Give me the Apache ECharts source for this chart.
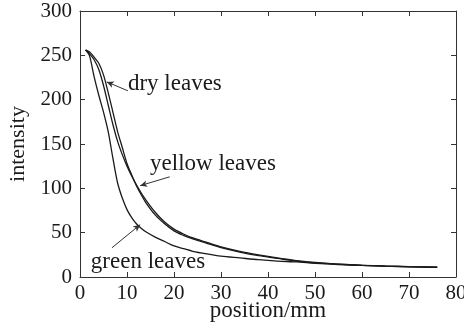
<!DOCTYPE html>
<html>
<head>
<meta charset="utf-8">
<script src="https://cdn.jsdelivr.net/npm/echarts@6/dist/echarts.min.js"></script>
<style>
  html, body { margin: 0; padding: 0; background: #fff; }
  #chart { width: 464px; height: 323px; }
</style>
</head>
<body>
<div id="chart"></div>
<script>
// position (mm) shared by all three curves
const positions = [1.2, 2, 3, 4, 5, 6, 7, 8, 9, 10, 11, 12, 13, 14, 16, 18, 20, 22, 24, 27, 30, 34, 38, 42, 46, 50, 55, 60, 65, 70, 76];
const dryLeaves    = [256, 254, 248, 241, 228, 208, 186, 164, 146, 128, 115, 103, 93, 84, 70, 60, 52, 47, 43, 38, 33, 28, 24, 21, 18, 16, 14.5, 13.2, 12.3, 11.6, 11];
const yellowLeaves = [256, 252, 245, 234, 216, 194, 172, 153, 138, 125, 114, 104, 95, 87, 73, 62, 54, 48.5, 44, 39, 34, 29, 25, 21.5, 18.5, 16.5, 14.5, 13.2, 12.3, 11.6, 11];
const greenLeaves  = [256, 250, 226, 205, 186, 164, 134, 106, 89, 76, 67, 60, 55, 51, 45, 40, 35, 32, 29, 26, 23.5, 21.5, 19.5, 18, 17, 15.5, 14, 13, 12.2, 11.5, 10.8];

const xTicks = [0, 10, 20, 30, 40, 50, 60, 70, 80];
const yTicks = [0, 50, 100, 150, 200, 250, 300];

// annotation text: [label, x, y] and leader line [from, to] in data units
const labels = [
  ['dry leaves', 10.2, 218],
  ['yellow leaves', 14.9, 127],
  ['green leaves', 2.3, 17]
];
const leaders = [
  [[10.2, 210], [5.7, 220]],
  [[19.1, 113], [12.8, 103]],
  [[6.8, 33], [12.8, 59]]
];

const font = 'Liberation Serif';
const ink = '#1a1a1a';

function pairs(ys) {
  return positions.map((x, i) => [x, ys[i]]);
}

const chart = echarts.init(document.getElementById('chart'));

const axisBase = {
  min: 0,
  nameMoveOverlap: false,
  axisLine: { show: true, onZero: false, lineStyle: { color: '#333', width: 1 } },
  axisTick: { show: true, inside: true, length: 5, lineStyle: { color: '#333' } },
  splitLine: { show: false }
};

function lineSeries(ys) {
  return {
    type: 'line',
    data: pairs(ys),
    smooth: 0.3,
    symbol: 'none',
    lineStyle: { color: ink, width: 1.3 },
    z: 3
  };
}

const option = {
  animation: false,
  backgroundColor: '#fff',
  grid: { left: 80, right: 8, top: 11, bottom: 46, outerBoundsMode: 'none', containLabel: false },
  xAxis: [
    Object.assign({}, axisBase, {
      type: 'value', max: 80, interval: 10,
      name: 'position/mm', nameLocation: 'middle', nameGap: 22,
      nameTextStyle: { fontFamily: font, fontSize: 23, color: ink },
      axisLabel: { fontFamily: font, fontSize: 21, color: ink, margin: 6,
        formatter: v => xTicks.includes(v) ? String(v) : '' }
    }),
    Object.assign({}, axisBase, {
      type: 'value', max: 80, interval: 10, position: 'top',
      axisLabel: { show: false }
    })
  ],
  yAxis: [
    Object.assign({}, axisBase, {
      type: 'value', max: 300, interval: 50,
      name: 'intensity', nameLocation: 'middle', nameGap: 51,
      nameTextStyle: { fontFamily: font, fontSize: 22, color: ink },
      axisLabel: { fontFamily: font, fontSize: 21, color: ink, margin: 8,
        formatter: v => yTicks.includes(v) ? String(v) : '' }
    }),
    Object.assign({}, axisBase, {
      type: 'value', max: 300, interval: 50, position: 'right',
      axisLabel: { show: false }
    })
  ],
  series: [
    lineSeries(dryLeaves),
    lineSeries(yellowLeaves),
    Object.assign(lineSeries(greenLeaves), {
      markLine: {
        silent: true,
        symbol: ['none', 'arrow'],
        symbolSize: [5, 7],
        label: { show: false },
        lineStyle: { color: '#333', width: 1, type: 'solid' },
        data: leaders.map(l => [{ coord: l[0] }, { coord: l[1] }])
      }
    })
  ]
};

chart.setOption(option);

// place the annotation texts
chart.setOption({
  graphic: labels.map(l => {
    const p = chart.convertToPixel({ xAxisIndex: 0, yAxisIndex: 0 }, [l[1], l[2]]);
    return {
      type: 'text',
      x: p[0], y: p[1],
      style: { text: l[0], fontFamily: font, fontSize: 23, fill: ink, verticalAlign: 'middle', align: 'left' }
    };
  })
});
</script>
</body>
</html>
